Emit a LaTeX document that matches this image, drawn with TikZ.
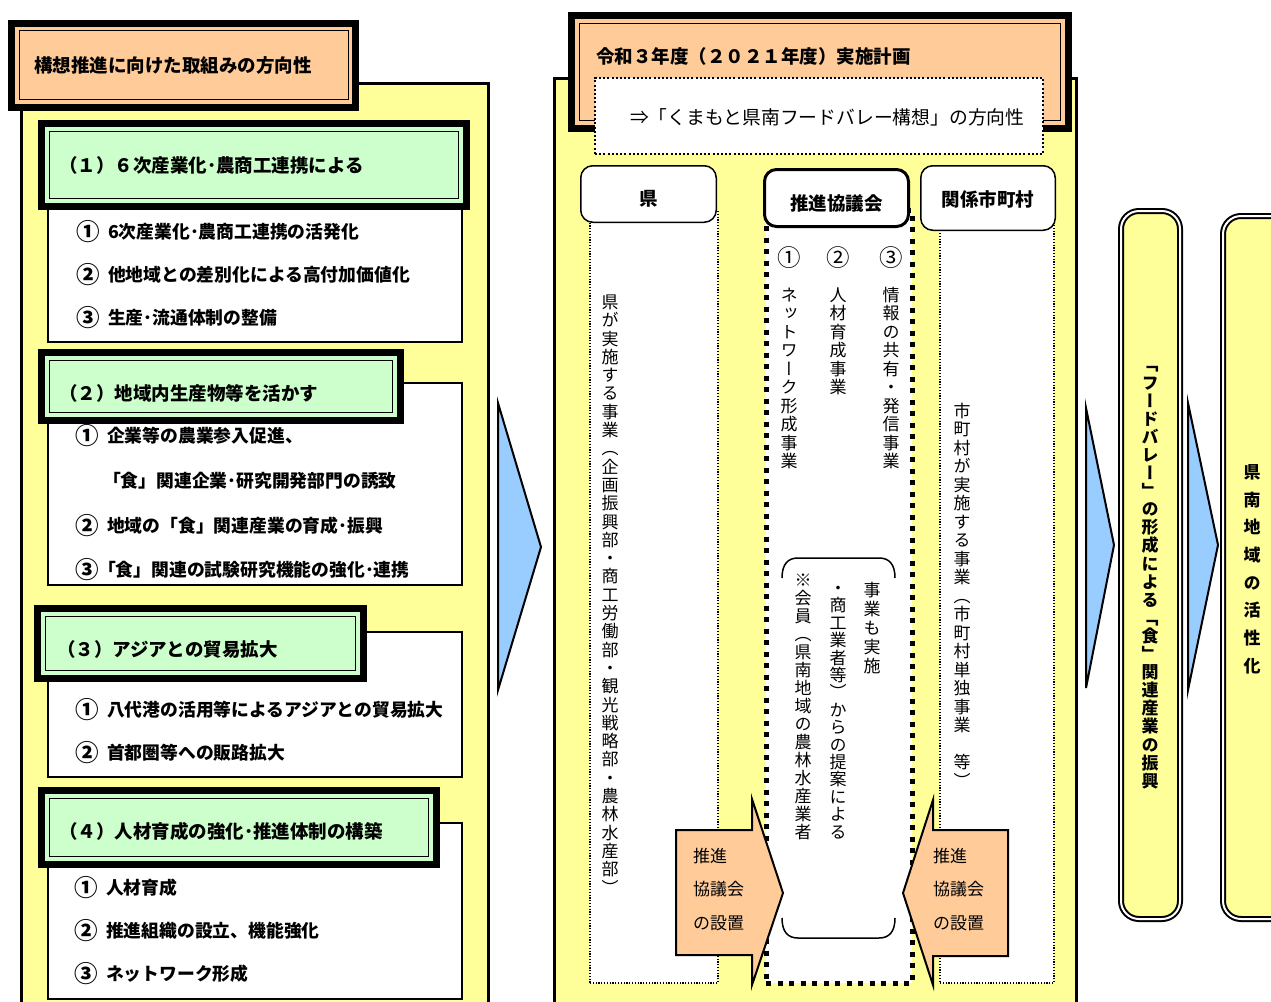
\documentclass[tikz,border=0pt]{standalone}
\usepackage{fontspec}
\setmainfont{Noto Sans CJK JP}
\newfontfamily\jpv{Noto Sans CJK JP}[RawFeature=+vert]
\usetikzlibrary{fit}
\definecolor{pyellow}{HTML}{FFFF99}
\definecolor{pgreen}{HTML}{CCFFCC}
\definecolor{porange}{HTML}{FFCC99}
\definecolor{pblue}{HTML}{99CCFF}
\def\vtstop{\vtstop}
\newcommand\vtext[2]{\vbox{\baselineskip=#1pt\relax\lineskiplimit=-1000pt\relax\lineskip=0pt\relax\vtloop#2\vtstop}}
\def\vtloop#1{\ifx\vtstop#1\else\hbox to 1em{\vrule height .88em depth .12em width 0pt\hss#1\hss}\expandafter\vtloop\fi}
\newcommand\cnum[1]{\raisebox{-2.3pt}{\fontsize{23.5}{24}\selectfont #1}}
\newcommand\itm[3][32pt]{\makebox[#1][l]{\cnum{#2}}#3}
\begin{document}
\begin{tikzpicture}[x=1pt,y=-1pt,
  every node/.style={inner sep=0pt,outer sep=0pt},
  panel/.style={draw=black,line width=3,fill=pyellow},
  thickbox/.style={draw=black,line width=7},
  thinline/.style={draw=black,line width=1.5},
  wbox/.style={draw=black,line width=1.5,fill=white},
  item/.style={anchor=west,font=\bfseries\fontsize{17.8}{20}\selectfont},
  hdrtxt/.style={anchor=west,font=\bfseries\fontsize{18.5}{21}\selectfont},
  lbl/.style={font=\bfseries\fontsize{18.5}{21}\selectfont},
  vtxt/.style={anchor=north,font=\jpv\fontsize{17}{18.5}\selectfont},
  vbold/.style={anchor=north,font=\jpv\bfseries\fontsize{17}{18.5}\selectfont},
  cnumtxt/.style={font=\fontsize{23.5}{24}\selectfont},
  arrtxt/.style={anchor=west,font=\fontsize{17}{20}\selectfont},
  thindot/.style={draw=black,line width=1.2,dash pattern=on 1.2pt off 1.6pt,fill=white},
  bigdot/.style={draw=black,line width=5,dash pattern=on 5pt off 6.5pt,fill=white},
  hdrbox/.style={draw=black,fill=white,rounded corners=12},
  orarrow/.style={draw=black,line width=2,fill=porange},
  bluetri/.style={draw=black,line width=2,fill=pblue},
  rbox/.style={draw=black,line width=2,double=white,double distance=2,fill=pyellow,rounded corners=18}
]
\useasboundingbox (0,0) rectangle (1271,1001);
\clip (0,0) rectangle (1271,1001);
\fill[white] (0,0) rectangle (1271,1001);

% ---------- left panel ----------
\node[panel,fit={(21.5,83.5) (488.5,1012)}] (lp) {};
\node[thickbox,fill=porange,fit={(11.5,23.5) (355.5,107.5)}] (lt) {};
\node[thinline,fit={(19.5,30.5) (348.5,99.5)}] (lti) {};
\node[hdrtxt] (ltt) at (34,65) {構想推進に向けた取組みの方向性};

\node[wbox,fit={(48,200) (462,342)}] (w1) {};
\node[thickbox,fill=pgreen,fit={(41.5,123.5) (466.5,206.5)}] (g1) {};
\node[thinline,fit={(49.5,131.5) (458.5,198.5)}] (g1i) {};
\node[hdrtxt] (g1t) at (59,165) {（１）６次産業化･農商工連携による};

\node[wbox,fit={(48,383) (462,585)}] (w2) {};
\node[thickbox,fill=pgreen,fit={(41.5,352.5) (400.5,420.5)}] (g2) {};
\node[thinline,fit={(49.5,360.5) (392.5,412.5)}] (g2i) {};
\node[hdrtxt] (g2t) at (59,393) {（２）地域内生産物等を活かす};

\node[wbox,fit={(48,632) (462,777)}] (w3) {};
\node[thickbox,fill=pgreen,fit={(37.5,608.5) (363.5,678.5)}] (g3) {};
\node[thinline,fit={(45.5,616.5) (355.5,670.5)}] (g3i) {};
\node[hdrtxt] (g3t) at (57,649) {（３）アジアとの貿易拡大};

\node[wbox,fit={(48,823) (462,999)}] (w4) {};
\node[thickbox,fill=pgreen,fit={(41.5,790.5) (436.5,864.5)}] (g4) {};
\node[thinline,fit={(49.5,798.5) (428.5,856.5)}] (g4i) {};
\node[hdrtxt] (g4t) at (59,831) {（４）人材育成の強化･推進体制の構築};

\node[item] (i11) at (76,232) {\itm{①}{6次産業化･農商工連携の活発化}};
\node[item] (i12) at (76,275) {\itm{②}{他地域との差別化による高付加価値化}};
\node[item] (i13) at (76,318) {\itm{③}{生産･流通体制の整備}};
\node[item] (i21) at (75,436) {\itm{①}{企業等の農業参入促進、}};
\node[item] (i21b) at (103,481) {「食」関連企業･研究開発部門の誘致};
\node[item] (i22) at (75,526) {\itm{②}{地域の「食」関連産業の育成･振興}};
\node[item] (i23) at (75,570) {\itm[23pt]{③}{「食」関連の試験研究機能の強化･連携}};
\node[item] (i31) at (75,710) {\itm{①}{八代港の活用等によるアジアとの貿易拡大}};
\node[item] (i32) at (75,753) {\itm{②}{首都圏等への販路拡大}};
\node[item] (i41) at (74,888) {\itm{①}{人材育成}};
\node[item] (i42) at (74,931) {\itm{②}{推進組織の設立、機能強化}};
\node[item] (i43) at (74,974) {\itm{③}{ネットワーク形成}};

% ---------- blue arrow 1 ----------
\draw[bluetri] (498,403) -- (541,547) -- (498,690) -- cycle;

% ---------- middle panel ----------
\node[panel,fit={(554.5,78.5) (1076.5,1012)}] (mp) {};
\node[thickbox,fill=porange,fit={(571.5,15.5) (1068.5,128.5)}] (mt) {};
\node[thinline,fit={(579.5,23.5) (1060.5,120.5)}] (mti) {};
\node[hdrtxt] (mtt) at (596,56) {令和３年度（２０２１年度）実施計画};
\node[draw=black,fill=white,line width=2,dash pattern=on 2pt off 2.2pt,fit={(595,78) (1043,154)}] (md) {};
\node[anchor=west,font=\fontsize{18.8}{22}\selectfont] (mdt) at (630,117) {⇒「くまもと県南フードバレー構想」の方向性};

% columns
\node[thindot,fit={(590,210) (718,983)}] (ck) {};
\node[bigdot,fit={(766,210) (912,983)}] (cs) {};
\node[thindot,fit={(940,225) (1054,983)}] (cm) {};

% headers
\node[hdrbox,line width=1.5,fit={(580.75,165.75) (716.25,222.25)}] (hk) {};
\node[hdrbox,line width=3,fit={(764.5,169.5) (908.5,226.5)}] (hs) {};
\node[hdrbox,line width=1.5,fit={(920.75,165.75) (1055.25,230.25)}] (hm) {};
\node[lbl,yshift=-5pt] (hkt) at (hk.center) {県};
\node[lbl,yshift=-5pt] (hst) at (hs.center) {推進協議会};
\node[lbl,yshift=-1pt] (hmt) at (hm.center) {関係市町村};

% vertical texts
\node[vtxt] (vk) at (610,293.5) {\vtext{18.3}{県が実施する事業（企画振興部・商工労働部・観光戦略部・農林水産部）}};
\node[cnumtxt] (n1) at (789,258) {①};
\node[cnumtxt] (n2) at (838,258) {②};
\node[cnumtxt] (n3) at (891,258) {③};
\node[vtxt] (vs1) at (789,286.5) {\vtext{18.5}{ネットワーク形成事業}};
\node[vtxt] (vs2) at (838,286.5) {\vtext{18.5}{人材育成事業}};
\node[vtxt] (vs3) at (891,286.5) {\vtext{18.5}{情報の共有・発信事業}};
\node[vtxt] (vm) at (962,402.5) {\vtext{18.5}{市町村が実施する事業（市町村単独事業　等）}};
\node[vtxt] (vba) at (872,581.5) {\vtext{19}{事業も実施}};
\node[vtxt] (vbb) at (838,579.5) {\vtext{17.4}{・商工業者等）からの提案による}};
\node[vtxt] (vbc) at (803,571.5) {\vtext{18}{※会員（県南地域の農林水産業者}};

% brackets
\draw[line width=1.5] (782,578) .. controls (782,564) and (788,558) .. (798,558) -- (879,558) .. controls (889,558) and (895,564) .. (895,578);
\draw[line width=1.5] (782,918) .. controls (782,932) and (788,938) .. (798,938) -- (879,938) .. controls (889,938) and (895,932) .. (895,918);

% orange arrows
\draw[orarrow] (676,830) -- (752,830) -- (752,799) -- (783,893) -- (752,985) -- (752,955) -- (676,955) -- cycle;
\draw[orarrow] (1008,830) -- (933,830) -- (933,800) -- (903,893) -- (933,985) -- (933,956) -- (1008,956) -- cycle;
\node[arrtxt] (al1) at (693,856) {推進};
\node[arrtxt] (al2) at (693,889) {協議会};
\node[arrtxt] (al3) at (693,923) {の設置};
\node[arrtxt] (ar1) at (933,856) {推進};
\node[arrtxt] (ar2) at (933,889) {協議会};
\node[arrtxt] (ar3) at (933,923) {の設置};

% ---------- right side ----------
\draw[bluetri] (1086,408) -- (1114,545) -- (1086,688) -- cycle;
\draw[bluetri] (1188,403) -- (1218,545) -- (1188,690) -- cycle;
\draw[rbox] (1121,211) rectangle (1180,919);
\draw[rbox] (1223,216) rectangle (1300,919);
\node[vbold] (r1t) at (1150,356) {\vtext{18.1}{「フードバレー」の形成による「食」関連産業の振興}};
\node[vbold] (r2t) at (1252,463.5) {\vtext{27.7}{県南地域の活性化}};
\end{tikzpicture}
\end{document}
